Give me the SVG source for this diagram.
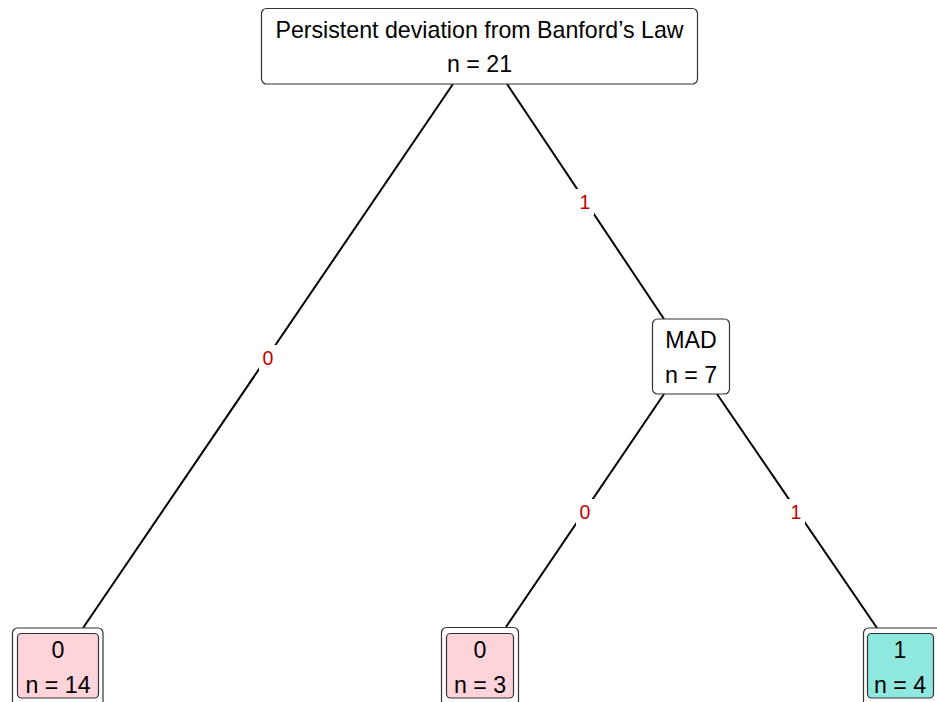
<svg xmlns="http://www.w3.org/2000/svg" width="937" height="702" viewBox="0 0 937 702">
<style>
.bg{fill:#ffffff}
.box{fill:#ffffff;stroke:#333333;stroke-width:1.2}
.pink{fill:#ffd3da;stroke:#333333;stroke-width:1.2}
.teal{fill:#8fe8df;stroke:#333333;stroke-width:1.2}
.t{font-family:"Liberation Sans",Arial,sans-serif;font-size:23.2px;fill:#000000;text-anchor:middle}
.el{font-family:"Liberation Sans",Arial,sans-serif;font-size:19.5px;fill:#c00000;text-anchor:middle}
.edge{stroke:#000000;stroke-width:2;fill:none}
.lbg{fill:#ffffff}
</style>
<rect class="bg" x="0" y="0" width="937" height="702"/>
<g id="connectors">
<line class="edge" x1="453" y1="84" x2="83" y2="628"/>
<line class="edge" x1="507" y1="84" x2="664" y2="319"/>
<line class="edge" x1="664" y1="394" x2="506" y2="627"/>
<line class="edge" x1="717" y1="394" x2="877" y2="628"/>
<rect class="lbg" x="259" y="345" width="18" height="26"/>
<rect class="lbg" x="576" y="189" width="18" height="26"/>
<rect class="lbg" x="576" y="499" width="18" height="26"/>
<rect class="lbg" x="787" y="499" width="18" height="26"/>
<text class="el" x="268" y="365">0</text>
<text class="el" x="585" y="209">1</text>
<text class="el" x="585" y="519">0</text>
<text class="el" x="796" y="519">1</text>
</g>
<g id="root">
<rect class="box" x="261.5" y="8.5" width="436" height="75.5" rx="5"/>
<text class="t" x="479.5" y="38">Persistent deviation from Banford’s Law</text>
<text class="t" x="479.5" y="72">n = 21</text>
</g>
<g id="mad">
<rect class="box" x="652.5" y="319" width="77" height="75" rx="5"/>
<text class="t" x="691" y="348">MAD</text>
<text class="t" x="691" y="383">n = 7</text>
</g>
<g id="leaf1">
<rect class="box" x="12.5" y="628" width="90.5" height="100" rx="5"/>
<rect class="pink" x="17.5" y="633.5" width="81" height="64.5" rx="4"/>
<text class="t" x="58" y="658">0</text>
<text class="t" x="58" y="692.5">n = 14</text>
</g>
<g id="leaf2">
<rect class="box" x="441.5" y="627.5" width="77" height="100" rx="5"/>
<rect class="pink" x="446.5" y="633.5" width="67" height="64.5" rx="4"/>
<text class="t" x="480" y="658">0</text>
<text class="t" x="480" y="692.5">n = 3</text>
</g>
<g id="leaf3">
<rect class="box" x="863.5" y="628" width="78" height="100" rx="5"/>
<rect class="teal" x="867.5" y="633.5" width="66" height="64.5" rx="4"/>
<text class="t" x="900" y="658">1</text>
<text class="t" x="900" y="692.5">n = 4</text>
</g>
</svg>
